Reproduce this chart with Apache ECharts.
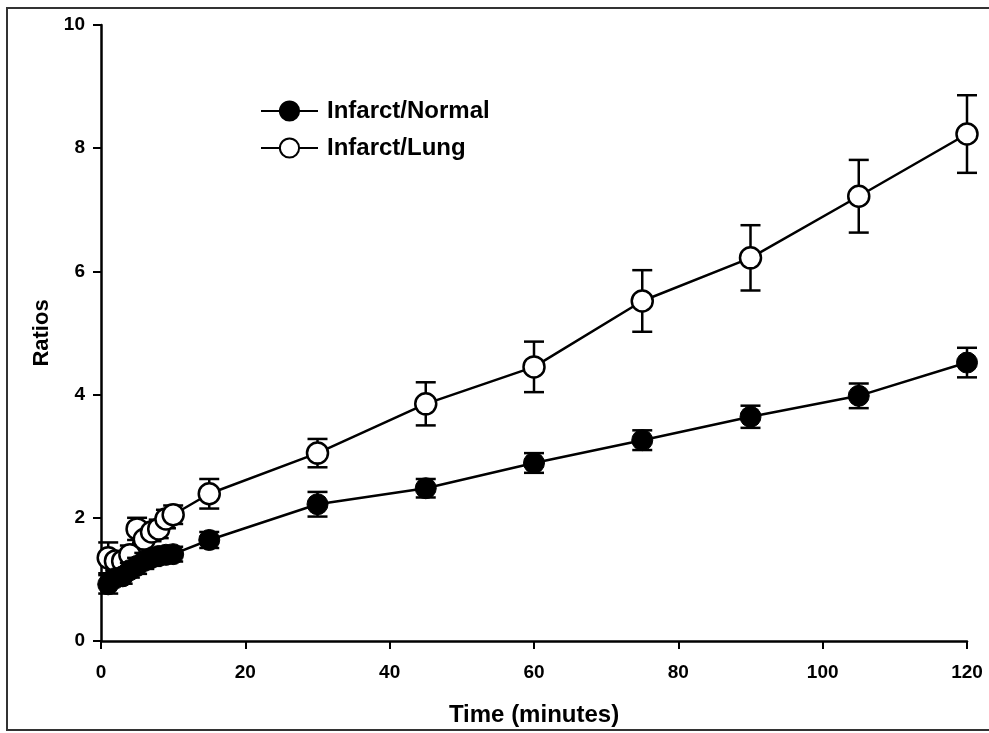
<!DOCTYPE html>
<html><head><meta charset="utf-8">
<script src="https://cdn.jsdelivr.net/npm/echarts@6/dist/echarts.min.js"></script>
<style>html,body{margin:0;padding:0;background:#fff}#c{width:989px;height:733px}</style>
</head><body><div id="c"></div>
<script>
const times = [1,2,3,4,5,6,7,8,9,10,15,30,45,60,75,90,105,120];
const normalVals = [0.92,1.02,1.05,1.15,1.22,1.30,1.35,1.38,1.40,1.41,1.64,2.22,2.48,2.89,3.26,3.64,3.98,4.52];
const normalErr  = [0.15,0.12,0.12,0.12,0.13,0.13,0.13,0.13,0.12,0.12,0.13,0.20,0.15,0.16,0.16,0.18,0.20,0.24];
const lungVals   = [1.35,1.30,1.30,1.40,1.82,1.65,1.77,1.82,1.98,2.05,2.39,3.05,3.85,4.45,5.52,6.22,7.22,8.23];
const lungErr    = [0.25,0.15,0.15,0.15,0.18,0.15,0.15,0.15,0.15,0.15,0.24,0.23,0.35,0.41,0.50,0.53,0.59,0.63];
const xTicks = [0,20,40,60,80,100,120];
const yTicks = [0,2,4,6,8,10];

const font = '"Liberation Sans", Arial, sans-serif';
function pts(v){ return times.map((t,i)=>[t,v[i]]); }
function errData(v,e){ return times.map((t,i)=>[t,v[i]-e[i],v[i]+e[i]]); }
function errSeries(v,e,z){
  return {
    type:'custom', z:z, silent:true,
    data: errData(v,e),
    renderItem:function(params,api){
      const x=api.value(0);
      const lo=api.coord([x,api.value(1)]);
      const hi=api.coord([x,api.value(2)]);
      const w=10;
      const st={stroke:'#000',lineWidth:2.5};
      return {type:'group',children:[
        {type:'line',shape:{x1:lo[0],y1:lo[1],x2:hi[0],y2:hi[1]},style:st},
        {type:'line',shape:{x1:lo[0]-w,y1:lo[1],x2:lo[0]+w,y2:lo[1]},style:st},
        {type:'line',shape:{x1:hi[0]-w,y1:hi[1],x2:hi[0]+w,y2:hi[1]},style:st}
      ]};
    }
  };
}
const chart = echarts.init(document.getElementById('c'),null,{renderer:'canvas'});
chart.setOption({
  animation:false,
  backgroundColor:'#fff',
  graphic:[{type:'rect',shape:{x:7,y:8,width:1000,height:722},style:{fill:'none',stroke:'#333',lineWidth:2},z:-1}],
  grid:{left:101,right:22,top:25,bottom:92},
  legend:{
    orient:'vertical', left:255, top:94, itemGap:13, itemWidth:57, itemHeight:24,
    textStyle:{fontFamily:font,fontWeight:'bold',fontSize:24,color:'#000',padding:[0,0,0,4]},
    data:['Infarct/Normal','Infarct/Lung']
  },
  xAxis:{
    type:'value', min:0, max:120, interval:20,
    name:'Time (minutes)', nameLocation:'middle', nameGap:62,
    nameTextStyle:{fontFamily:font,fontWeight:'bold',fontSize:24,color:'#000'},
    axisLine:{show:true,lineStyle:{color:'#000',width:2.5}},
    axisTick:{show:true,inside:false,length:8,lineStyle:{color:'#000',width:2}},
    axisLabel:{fontFamily:font,fontWeight:'bold',fontSize:19,color:'#000',margin:22},
    splitLine:{show:false}
  },
  yAxis:{
    type:'value', min:0, max:10, interval:2,
    name:'Ratios', nameLocation:'middle', nameGap:48, nameRotate:90,
    nameTextStyle:{fontFamily:font,fontWeight:'bold',fontSize:22,color:'#000'},
    axisLine:{show:true,lineStyle:{color:'#000',width:2.5}},
    axisTick:{show:true,inside:false,length:8,lineStyle:{color:'#000',width:2}},
    axisLabel:{fontFamily:font,fontWeight:'bold',fontSize:19,color:'#000',margin:16},
    splitLine:{show:false}
  },
  series:[
    {name:'Infarct/Lung',type:'line',data:pts(lungVals),symbol:'circle',symbolSize:21,z:3,
     lineStyle:{color:'#000',width:2.5},itemStyle:{color:'#fff',borderColor:'#000',borderWidth:2.5}},
    errSeries(lungVals,lungErr,2),
    {name:'Infarct/Normal',type:'line',data:pts(normalVals),symbol:'circle',symbolSize:21,z:5,
     lineStyle:{color:'#000',width:2.5},itemStyle:{color:'#000',borderColor:'#000',borderWidth:1}},
    errSeries(normalVals,normalErr,4)
  ]
});
</script></body></html>
